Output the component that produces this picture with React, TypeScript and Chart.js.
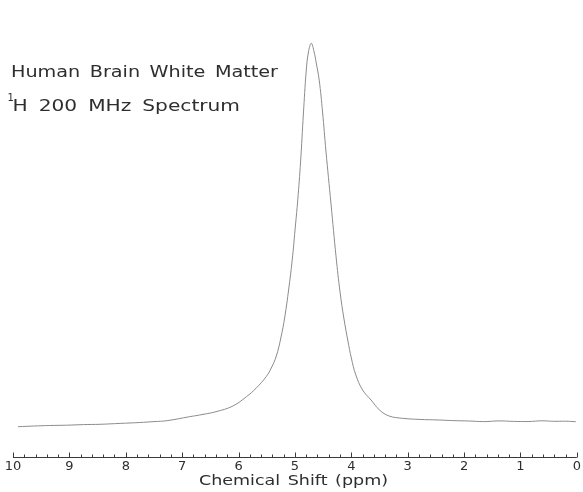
import React, { useEffect, useRef } from "react";
import { Chart, registerables } from "chart.js";

Chart.register(...registerables);

// Chemical shift (ppm) and signal intensity (arbitrary units)
const shiftPpm = [
  9.91, 9.62, 9.35, 9.05, 8.75, 8.46, 8.1, 7.75, 7.5, 7.27, 6.87, 6.69, 6.4, 6.1, 5.86, 5.69,
  5.51, 5.42, 5.33, 5.25, 5.18, 5.11, 5.05, 4.99, 4.95, 4.9, 4.85, 4.8, 4.76, 4.71, 4.66, 4.625,
  4.57, 4.51, 4.45, 4.36, 4.27, 4.2, 4.13, 4.06, 4.0, 3.92, 3.8, 3.65, 3.5, 3.33, 3.09, 2.8,
  2.44, 2.2, 1.91, 1.65, 1.38, 1.12, 0.85, 0.62, 0.41, 0.2, 0.02,
];
const intensity = [
  30.3, 31.0, 31.5, 31.8, 32.4, 32.7, 33.6, 34.5, 35.4, 36.3, 40.3, 42, 45.3, 51, 60.3, 68.7,
  80.3, 89, 101, 119, 140, 168, 196, 232, 257, 295, 343, 386, 405, 413.7, 405, 395, 377, 345,
  306, 253, 200, 165, 138, 116, 99, 82, 67, 57, 47, 41, 38.7, 37.6, 37, 36.4, 36.0, 35.4, 36.1,
  35.6, 35.5, 36.2, 35.7, 35.8, 35.3,
];
const tickValues = [10, 9, 8, 7, 6, 5, 4, 3, 2, 1, 0];
const titleLine1 = "Human Brain White Matter";
const titleLine2 = "H 200 MHz Spectrum";
const titleSuperscript = "1";
const xAxisTitle = "Chemical Shift (ppm)";

const TEXT_COLOR = "#2e2e2e";
const FONT = "'DejaVu Sans', sans-serif";

function stretchedText(
  ctx: CanvasRenderingContext2D,
  text: string,
  x: number,
  y: number,
  sx: number,
  width: number,
  align: "left" | "center"
) {
  ctx.save();
  (ctx as any).wordSpacing = "0px";
  const w = ctx.measureText(text).width;
  const spaces = (text.match(/ /g) || []).length;
  const ws = spaces > 0 ? (width / sx - w) / spaces : 0;
  (ctx as any).wordSpacing = ws + "px";
  ctx.textAlign = "left";
  const startX = align === "center" ? x - width / 2 : x;
  ctx.translate(startX, y);
  ctx.scale(sx, 1);
  ctx.fillText(text, 0, 0);
  ctx.restore();
}

const decorPlugin = {
  id: "decor",
  afterDraw(chart: any) {
    const ctx: CanvasRenderingContext2D = chart.ctx;
    const xs = chart.scales.x;
    const bottom = Math.round(chart.chartArea.bottom) + 0.5;
    ctx.save();
    ctx.strokeStyle = "#3a3a3a";
    ctx.lineWidth = 1;
    ctx.beginPath();
    ctx.moveTo(xs.getPixelForValue(10), bottom);
    ctx.lineTo(xs.getPixelForValue(0), bottom);
    for (let i = 0; i <= 50; i++) {
      const v = i * 0.2;
      const px = Math.round(xs.getPixelForValue(v)) + 0.5;
      const len = i % 5 === 0 ? 5 : 3;
      ctx.moveTo(px, bottom);
      ctx.lineTo(px, bottom - len);
    }
    ctx.stroke();

    ctx.fillStyle = TEXT_COLOR;
    ctx.textBaseline = "alphabetic";
    ctx.font = `16px ${FONT}`;
    stretchedText(ctx, titleLine1, 11, 76.5, 1.2, 267, "left");
    stretchedText(ctx, titleLine2, 12.5, 111, 1.26, 227.5, "left");
    ctx.font = `10px ${FONT}`;
    ctx.textAlign = "left";
    ctx.fillText(titleSuperscript, 7.5, 101);
    ctx.font = `14px ${FONT}`;
    stretchedText(ctx, xAxisTitle, 293.5, 484.5, 1.25, 189, "center");
    ctx.restore();
  },
};

export default function App() {
  const canvasRef = useRef<HTMLCanvasElement | null>(null);

  useEffect(() => {
    if (!canvasRef.current) return;
    const points = shiftPpm.map((x, i) => ({ x, y: intensity[i] }));
    const chart = new Chart(canvasRef.current, {
      type: "line",
      data: {
        datasets: [
          {
            data: points,
            borderColor: "#8c8c8c",
            borderWidth: 1,
            pointRadius: 0,
            fill: false,
            tension: 0.4,
          },
        ],
      },
      options: {
        animation: false,
        responsive: true,
        maintainAspectRatio: false,
        layout: { padding: { top: 40, left: 13, right: 5, bottom: 0 } },
        plugins: { legend: { display: false }, tooltip: { enabled: false }, title: { display: false } },
        scales: {
          x: {
            type: "linear",
            reverse: true,
            min: 0,
            max: 10,
            afterFit: (scale: any) => {
              scale.height = 35;
            },
            afterBuildTicks: (scale: any) => {
              scale.ticks = tickValues.map((v) => ({ value: v }));
            },
            grid: { display: false, drawTicks: false },
            border: { display: false },
            ticks: {
              padding: 2,
              autoSkip: false,
              maxRotation: 0,
              color: TEXT_COLOR,
              font: { family: FONT, size: 13 },
              callback: (v: any) => String(v),
            },
            title: { display: false },
          },
          y: {
            display: false,
            min: 0,
            max: 417,
          },
        },
      },
      plugins: [decorPlugin],
    });
    return () => chart.destroy();
  }, []);

  return (
    <div style={{ position: "fixed", left: 0, top: 0, width: 583, height: 492, background: "#ffffff" }}>
      <canvas ref={canvasRef} />
    </div>
  );
}
